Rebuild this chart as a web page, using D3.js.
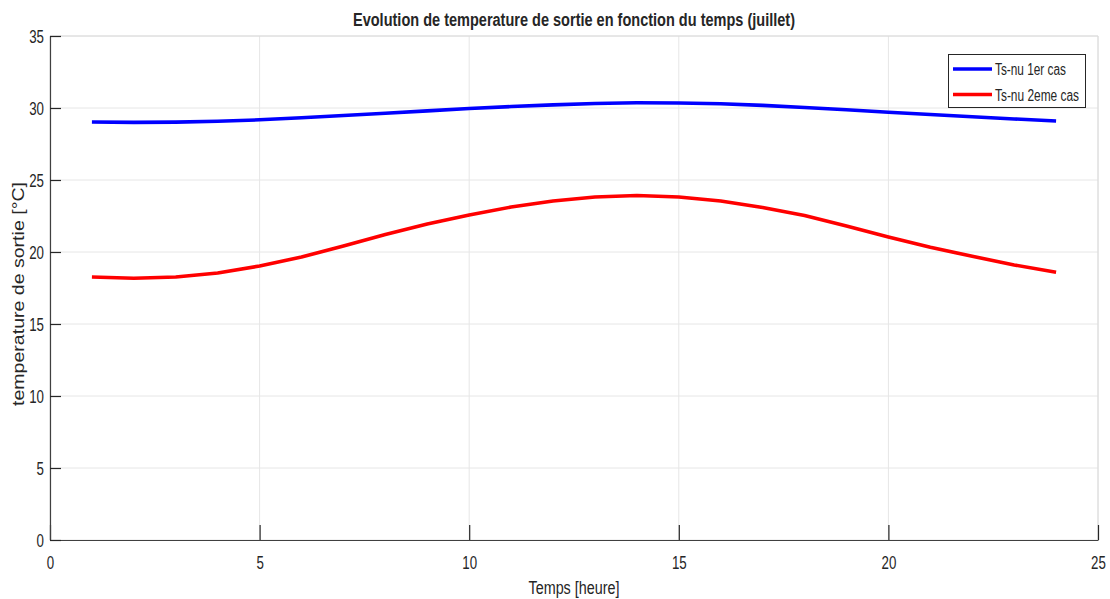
<!DOCTYPE html>
<html>
<head>
<meta charset="utf-8">
<script src="https://cdn.jsdelivr.net/npm/d3@7"></script>
<style>
  html, body { margin: 0; padding: 0; background: #fff; }
  svg { display: block; }
  text { font-family: "Liberation Sans", Arial, sans-serif; fill: #262626; }
</style>
</head>
<body>
<svg id="chart" width="1110" height="599"></svg>
<script>
// Hourly outlet temperatures (°C), July
const hours = [1, 2, 3, 4, 5, 6, 7, 8, 9, 10, 11, 12, 13, 14, 15, 16, 17, 18, 19, 20, 21, 22, 23, 24];
const tsCas1 = [29.03, 29.00, 29.02, 29.08, 29.18, 29.32, 29.48, 29.64, 29.80, 29.96, 30.10, 30.22, 30.31, 30.36, 30.35, 30.29, 30.18, 30.04, 29.88, 29.71, 29.55, 29.39, 29.24, 29.10];
const tsCas2 = [18.26, 18.18, 18.26, 18.54, 19.03, 19.65, 20.42, 21.22, 21.94, 22.57, 23.12, 23.54, 23.82, 23.92, 23.82, 23.54, 23.09, 22.53, 21.81, 21.04, 20.33, 19.70, 19.10, 18.60];
const seriesNames = ["Ts-nu 1er cas", "Ts-nu 2eme cas"];
const seriesColors = ["#0000ff", "#ff0000"];
const xTicks = [0, 5, 10, 15, 20, 25];
const yTicks = [0, 5, 10, 15, 20, 25, 30, 35];

const svg = d3.select("#chart");
const L = 50, R = 1098, T = 36, B = 540;

const x = d3.scaleLinear().domain([0, 25]).range([L, R]);
const y = d3.scaleLinear().domain([0, 35]).range([B, T]);

// Squeeze text horizontally to a given width (narrow font look)
function fit(sel, width) {
  sel.each(function () {
    this.setAttribute("textLength", width);
    this.setAttribute("lengthAdjust", "spacingAndGlyphs");
  });
}
function squeeze(sel, f) {
  sel.each(function () {
    const w = this.getComputedTextLength();
    this.setAttribute("textLength", w * f);
    this.setAttribute("lengthAdjust", "spacingAndGlyphs");
  });
}

// Grid
const grid = svg.append("g");
grid.selectAll(".gx").data(xTicks).join("line")
  .attr("x1", d => x(d)).attr("x2", d => x(d))
  .attr("y1", T).attr("y2", B)
  .attr("stroke", "#e6e6e6").attr("stroke-width", 1);
grid.selectAll(".gy").data(yTicks).join("line")
  .attr("x1", L).attr("x2", R)
  .attr("y1", d => y(d)).attr("y2", d => y(d))
  .attr("stroke", "#e6e6e6").attr("stroke-width", 1);

// Top and right box edges
svg.append("path")
  .attr("d", `M${L},${T}H${R}V${B}`)
  .attr("fill", "none").attr("stroke", "#dadada").attr("stroke-width", 1);

// Series
const line = d3.line().x((d, i) => x(hours[i])).y(d => y(d));
[tsCas1, tsCas2].forEach((vals, k) => {
  svg.append("path")
    .datum(vals)
    .attr("d", line)
    .attr("fill", "none")
    .attr("stroke", seriesColors[k])
    .attr("stroke-width", 3.6)
    .attr("stroke-linejoin", "round");
});

// Axes
const xAxis = d3.axisBottom(x).tickValues(xTicks).tickSize(-15).tickPadding(21).tickSizeOuter(0);
const yAxis = d3.axisLeft(y).tickValues(yTicks).tickSize(-11).tickPadding(18).tickSizeOuter(0);

const gx = svg.append("g").attr("transform", `translate(0,${B})`).call(xAxis);
const gy = svg.append("g").attr("transform", `translate(${L},0)`).call(yAxis);

[gx, gy].forEach(g => {
  g.select(".domain").attr("stroke", "#404040").attr("stroke-width", 1.2);
  g.selectAll(".tick line").attr("stroke", "#262626").attr("stroke-width", 1.2);
  g.selectAll(".tick text")
    .style("font-family", '"Liberation Sans", Arial, sans-serif')
    .attr("font-size", 17.5).attr("fill", "#262626");
});
gx.selectAll(".tick text").attr("dy", "0.45em");
gy.selectAll(".tick text").attr("dy", "0.38em").attr("x", -6);
squeeze(gx.selectAll(".tick text"), 0.76);
squeeze(gy.selectAll(".tick text"), 0.76);

// Title
svg.append("text")
  .attr("x", (L + R) / 2).attr("y", 26)
  .attr("text-anchor", "middle")
  .attr("font-size", 18).attr("font-weight", "bold")
  .attr("fill", "#000")
  .text("Evolution de temperature de sortie en fonction du temps (juillet)")
  .call(fit, 442);

// Axis labels
svg.append("text")
  .attr("x", (L + R) / 2).attr("y", 594)
  .attr("text-anchor", "middle")
  .attr("font-size", 18)
  .text("Temps [heure]")
  .call(fit, 91);

svg.append("text")
  .attr("transform", `translate(24,${(T + B) / 2 + 6}) rotate(-90)`)
  .attr("text-anchor", "middle")
  .attr("font-size", 16.5)
  .text("temperature de sortie [°C]")
  .call(fit, 224);

// Legend
const lg = svg.append("g");
lg.append("rect")
  .attr("x", 948.5).attr("y", 54.5).attr("width", 137).attr("height", 53)
  .attr("fill", "#fff").attr("stroke", "#262626").attr("stroke-width", 1);
const legendW = [71, 84];
seriesNames.forEach((name, k) => {
  const ly = 69 + k * 25.5;
  lg.append("line")
    .attr("x1", 953).attr("x2", 992).attr("y1", ly).attr("y2", ly)
    .attr("stroke", seriesColors[k]).attr("stroke-width", 3.6);
  lg.append("text")
    .attr("x", 995).attr("y", ly + 6)
    .attr("font-size", 16).attr("fill", "#000")
    .text(name)
    .call(fit, legendW[k]);
});
</script>
</body>
</html>
